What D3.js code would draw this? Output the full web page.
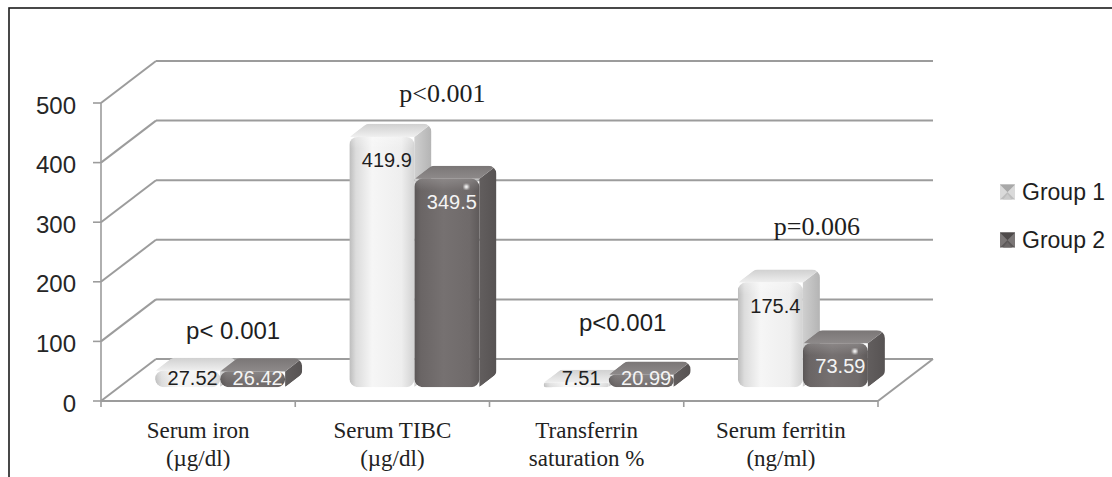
<!DOCTYPE html>
<html>
<head>
<meta charset="utf-8">
<script src="https://cdn.jsdelivr.net/npm/d3@7"></script>
<style>
  html, body { margin: 0; padding: 0; background: #fff; }
  svg { display: block; }
</style>
</head>
<body>
<svg id="chart" width="1112" height="477"></svg>
<script>
// ---- data ----
const categories = ["Serum iron", "Serum TIBC", "Transferrin", "Serum ferritin"];
const categoryUnits = ["(µg/dl)", "(µg/dl)", "saturation %", "(ng/ml)"];
const groups = ["Group 1", "Group 2"];
const group1 = [27.52, 419.9, 7.51, 175.4];
const group2 = [26.42, 349.5, 20.99, 73.59];
const yTicks = [0, 100, 200, 300, 400, 500];
const pValues = ["p< 0.001", "p<0.001", "p<0.001", "p=0.006"];

// ---- layout ----
const W = 1112, H = 477;
const svg = d3.select("#chart");
const defs = svg.append("defs");

const SANS = "'Liberation Sans', Arial, sans-serif";
const SERIF = "'Liberation Serif', 'Times New Roman', serif";

// front plane of the 3-D box and its depth offset
const front = { left: 101, right: 878, bottom: 401, top: 103 };
const depth = { dx: 55, dy: -42 };
const y = d3.scaleLinear().domain([0, 500]).range([front.bottom, front.top]);
const x = d3.scaleBand().domain(categories).range([front.left, front.right]);
const xg = d3.scaleBand().domain(groups).range([0, 130]);

// bars sit between these depth fractions of the floor
const dA = 0.33, dB = 0.64;
const gridColor = "#9c9c9c";

// outer frame
svg.append("rect")
  .attr("x", 9).attr("y", 8).attr("width", 1200).attr("height", 600)
  .attr("fill", "none").attr("stroke", "#1c1c1c").attr("stroke-width", 1.6);

// ---- walls & gridlines ----
const grid = svg.append("g").attr("stroke", gridColor).attr("stroke-width", 2).attr("fill", "none");
yTicks.forEach(v => {
  const yf = y(v), yb = y(v) + depth.dy;
  // side wall diagonal
  grid.append("line")
    .attr("x1", front.left).attr("y1", yf)
    .attr("x2", front.left + depth.dx).attr("y2", yb);
  // back wall horizontal
  grid.append("line")
    .attr("x1", front.left + depth.dx).attr("y1", yb)
    .attr("x2", front.right + depth.dx).attr("y2", yb);
});
// floor front edge and right edge
grid.append("line")
  .attr("x1", front.left).attr("y1", y(0))
  .attr("x2", front.right).attr("y2", y(0));
grid.append("line")
  .attr("x1", front.right).attr("y1", y(0))
  .attr("x2", front.right + depth.dx).attr("y2", y(0) + depth.dy);

// value axis
const axis = svg.append("g").attr("stroke", gridColor).attr("stroke-width", 1.6);
axis.append("line")
  .attr("x1", front.left).attr("y1", y(500))
  .attr("x2", front.left).attr("y2", y(0));
yTicks.forEach(v => {
  axis.append("line")
    .attr("x1", front.left - 8).attr("y1", y(v))
    .attr("x2", front.left).attr("y2", y(v));
});
svg.append("g").selectAll("text").data(yTicks).join("text")
  .attr("x", 76).attr("y", d => y(d) + 2)
  .attr("text-anchor", "end").attr("dominant-baseline", "central")
  .attr("font-family", SANS).attr("font-size", 24).attr("fill", "#262626")
  .text(d => d);

// category ticks along the floor front edge
const catEdges = categories.map(c => x(c)).concat([front.right]);
axis.selectAll("line.ct").data(catEdges).join("line").attr("class", "ct")
  .attr("x1", d => d).attr("x2", d => d)
  .attr("y1", y(0)).attr("y2", y(0) + 6);

// category labels (two lines each)
const catLabels = svg.append("g")
  .attr("font-family", SERIF).attr("font-size", 23).attr("fill", "#222")
  .attr("text-anchor", "middle");
categories.forEach((c, i) => {
  const cx = x(c) + x.bandwidth() / 2;
  catLabels.append("text").attr("x", cx).attr("y", 430)
    .attr("dominant-baseline", "central").text(c);
  catLabels.append("text").attr("x", cx).attr("y", 458)
    .attr("dominant-baseline", "central").text(categoryUnits[i]);
});

// ---- gradients ----
function linGrad(id, horizontal, stops) {
  const g = defs.append("linearGradient").attr("id", id)
    .attr("x1", 0).attr("y1", 0)
    .attr("x2", horizontal ? 1 : 0).attr("y2", horizontal ? 0 : 1);
  stops.forEach(([o, c, a]) => g.append("stop").attr("offset", o)
    .attr("stop-color", c).attr("stop-opacity", a == null ? 1 : a));
}
const style = {
  "Group 1": {
    front: [[0, "#bcbcbc"], [0.1, "#dcdcdc"], [0.35, "#f6f6f6"], [0.8, "#eeeeee"], [1, "#d2d2d2"]],
    top: [[0, "#d0d0d0"], [1, "#efefef"]],
    side: [[0, "#cfcfcf"], [1, "#b4b4b4"]],
    label: "#1e1e1e"
  },
  "Group 2": {
    front: [[0, "#5a5656"], [0.1, "#6a6565"], [0.45, "#767171"], [0.85, "#6f6a6a"], [1, "#5e5a5a"]],
    top: [[0, "#7a7676"], [1, "#8e8a8a"]],
    side: [[0, "#625e5e"], [1, "#575353"]],
    label: "#f4f4f4"
  }
};
groups.forEach((gname, gi) => {
  const s = style[gname];
  linGrad("front" + gi, true, s.front);
  linGrad("top" + gi, false, s.top);
  linGrad("side" + gi, true, s.side);
});
linGrad("sheen", false, [[0, "#ffffff", 0.45], [1, "#ffffff", 0]]);
defs.append("filter").attr("id", "soft")
  .append("feGaussianBlur").attr("stdDeviation", 0.9);

// polygon inset (convex, clockwise on screen) for rounded silhouettes
function insetPolygon(pts, r) {
  const n = pts.length, lines = [];
  for (let i = 0; i < n; i++) {
    const a = pts[i], b = pts[(i + 1) % n];
    let ex = b[0] - a[0], ey = b[1] - a[1];
    const L = Math.hypot(ex, ey); ex /= L; ey /= L;
    lines.push({ p: [a[0] - ey * r, a[1] + ex * r], d: [ex, ey] });
  }
  const out = [];
  for (let i = 0; i < n; i++) {
    const l1 = lines[(i - 1 + n) % n], l2 = lines[i];
    const cr = l1.d[0] * l2.d[1] - l1.d[1] * l2.d[0];
    const qx = l2.p[0] - l1.p[0], qy = l2.p[1] - l1.p[1];
    const t = (qx * l2.d[1] - qy * l2.d[0]) / cr;
    out.push([l1.p[0] + t * l1.d[0], l1.p[1] + t * l1.d[1]]);
  }
  return out;
}
const poly = pts => "M" + pts.map(p => p[0].toFixed(2) + "," + p[1].toFixed(2)).join("L") + "Z";

// ---- bars ----
const series = [group1, group2];
const barsG = svg.append("g");
const oyA = depth.dy * dA;
const bdx = depth.dx * (dB - dA), bdy = depth.dy * (dB - dA);
let mi = 0;
categories.forEach((c, ci) => {
  // pair of bars, shifted back by the bars' front depth
  const start = x(c) + x.bandwidth() / 2 - xg.range()[1] / 2 + 22;
  groups.forEach((gname, gi) => {
    const v = series[gi][ci];
    const x0 = start + xg(gname);
    const x1 = x0 + xg.bandwidth();
    const yb = y(0) + oyA, yt = y(v) + oyA;
    const h = yb - yt;
    const pts = [[x0, yb], [x0, yt], [x0 + bdx, yt + bdy], [x1 + bdx, yt + bdy], [x1 + bdx, yb + bdy], [x1, yb]];
    const r = Math.min(8, h / 1.45 + 1.5);
    const id = "bm" + (mi++);
    defs.append("mask").attr("id", id).attr("maskUnits", "userSpaceOnUse")
      .attr("x", 0).attr("y", 0).attr("width", W).attr("height", H)
      .append("path").attr("d", poly(insetPolygon(pts, r)))
      .attr("fill", "#fff").attr("stroke", "#fff")
      .attr("stroke-width", 2 * r).attr("stroke-linejoin", "round");
    const g = barsG.append("g").attr("mask", `url(#${id})`);
    g.append("path").attr("d", poly([[x1, yt], [x1 + bdx, yt + bdy], [x1 + bdx, yb + bdy], [x1, yb]]))
      .attr("fill", `url(#side${gi})`);
    g.append("path").attr("d", poly([[x0, yt], [x0 + bdx, yt + bdy], [x1 + bdx, yt + bdy], [x1, yt]]))
      .attr("fill", `url(#top${gi})`);
    g.append("rect").attr("x", x0).attr("y", yt).attr("width", x1 - x0).attr("height", h)
      .attr("rx", Math.min(r, h / 2)).attr("fill", `url(#front${gi})`);
    g.append("rect").attr("x", x0 + 1).attr("y", yt).attr("width", x1 - x0 - 2)
      .attr("height", Math.min(12, h)).attr("fill", "url(#sheen)").attr("opacity", gi === 0 ? 0.6 : 0.35);
    if (gi === 1 && h > 30) {
      g.append("circle").attr("cx", x1 - 13).attr("cy", yt + 8).attr("r", 2.4)
        .attr("fill", "#fff").attr("filter", "url(#soft)");
    }
    // value label
    barsG.append("text")
      .attr("x", (x0 + x1) / 2 + 5)
      .attr("y", Math.min(yt + 23, yb - 9))
      .attr("text-anchor", "middle").attr("dominant-baseline", "central")
      .attr("font-family", SANS).attr("font-size", 20)
      .attr("fill", style[gname].label)
      .text(v);
  });
});

// ---- significance notes ----
const noteLayout = [
  { dx: 35, y: 330, font: SANS, size: 24 },
  { dx: 50, y: 93, font: SERIF, size: 26 },
  { dx: 36, y: 322, font: SANS, size: 24 },
  { dx: 36, y: 226, font: SERIF, size: 26 }
];
svg.append("g").selectAll("text").data(pValues).join("text")
  .attr("x", (d, i) => x(categories[i]) + x.bandwidth() / 2 + noteLayout[i].dx)
  .attr("y", (d, i) => noteLayout[i].y)
  .attr("text-anchor", "middle").attr("dominant-baseline", "central")
  .attr("font-family", (d, i) => noteLayout[i].font)
  .attr("font-size", (d, i) => noteLayout[i].size)
  .attr("fill", "#1e1e1e")
  .text(d => d);

// ---- legend ----
const legendColors = [
  { base: "#bdbdbd", lr: "#dadada", top: "#a8a8a8", bottom: "#cbcbcb" },
  { base: "#5d5959", lr: "#7b7777", top: "#4e4a4a", bottom: "#6b6767" }
];
const legend = svg.append("g");
groups.forEach((gname, gi) => {
  const ly = 192 + gi * 48;
  const s = 15, lx = 1000, ty = ly - s / 2;
  const lc = legendColors[gi];
  const cx = lx + s / 2, cy = ty + s / 2;
  legend.append("rect").attr("x", lx).attr("y", ty).attr("width", s).attr("height", s).attr("fill", lc.base);
  legend.append("path").attr("d", poly([[lx, ty], [cx, cy], [lx, ty + s]])).attr("fill", lc.lr);
  legend.append("path").attr("d", poly([[lx + s, ty], [cx, cy], [lx + s, ty + s]])).attr("fill", lc.lr);
  legend.append("path").attr("d", poly([[lx, ty], [lx + s, ty], [cx, cy]])).attr("fill", lc.top);
  legend.append("path").attr("d", poly([[lx + 3, ty + s], [lx + s - 3, ty + s], [cx, cy + 2]])).attr("fill", lc.bottom);
  legend.append("text").attr("x", 1022).attr("y", ly)
    .attr("dominant-baseline", "central")
    .attr("font-family", SANS).attr("font-size", 23).attr("fill", "#1e1e1e")
    .text(gname);
});
</script>
</body>
</html>
